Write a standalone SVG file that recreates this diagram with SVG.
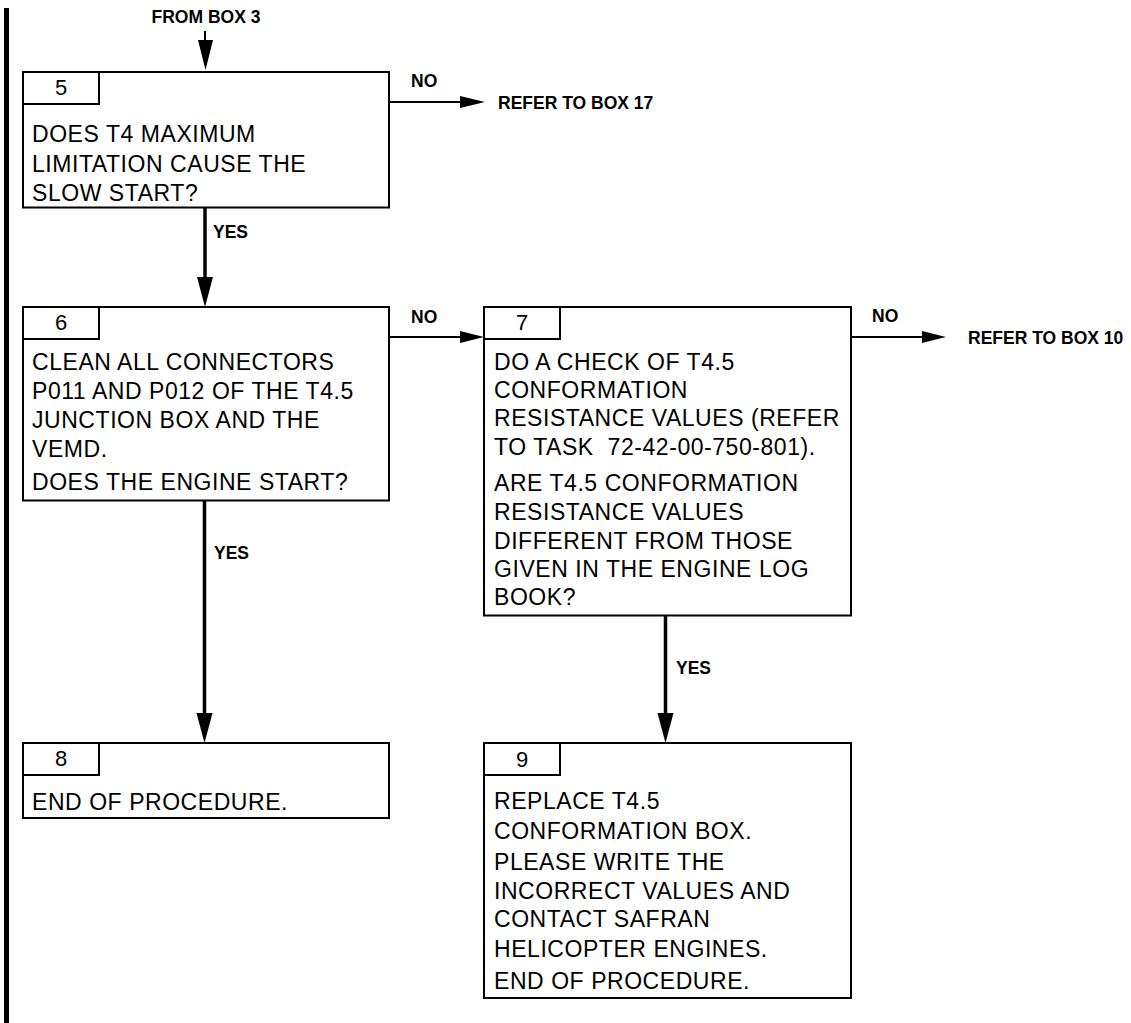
<svg xmlns="http://www.w3.org/2000/svg" width="1131" height="1023" viewBox="0 0 1131 1023">
<style>
.box{fill:#fff;stroke:#000;stroke-width:2}
.tab{fill:none;stroke:#000;stroke-width:2}
.t{font-family:"Liberation Sans",Arial,sans-serif;font-size:23px;letter-spacing:0.55px;fill:#000}
.n{font-family:"Liberation Sans",Arial,sans-serif;font-size:22px;fill:#000;text-anchor:middle}
.lb{font-family:"Liberation Sans",Arial,sans-serif;font-size:17.5px;font-weight:bold;fill:#000}
.v{stroke:#000;stroke-width:3.5;fill:none}
.h{stroke:#000;stroke-width:2;fill:none}
.ah{fill:#000}
</style>
<rect x="4" y="8" width="5" height="1015" fill="#000"/>
<g id="connectors">
  <text class="lb" x="206" y="23" text-anchor="middle">FROM BOX 3</text>
  <line class="h" x1="205" y1="31" x2="205" y2="45"/>
  <polygon class="ah" points="198,40 213,40 205.5,70"/>
  <line class="h" x1="389" y1="102" x2="465" y2="102"/>
  <polygon class="ah" points="460,96 485,102 460,108"/>
  <text class="lb" x="411" y="87">NO</text>
  <text class="lb" x="498" y="109">REFER TO BOX 17</text>
  <line class="v" x1="205" y1="208" x2="205" y2="282"/>
  <polygon class="ah" points="197,277 213,277 205,307"/>
  <text class="lb" x="213" y="238">YES</text>
  <line class="h" x1="389" y1="337" x2="465" y2="337"/>
  <polygon class="ah" points="460,331 484,337 460,343"/>
  <text class="lb" x="411" y="323">NO</text>
  <line class="h" x1="851" y1="337" x2="927" y2="337"/>
  <polygon class="ah" points="922,331 946,337 922,343"/>
  <text class="lb" x="872" y="322">NO</text>
  <text class="lb" x="968" y="344">REFER TO BOX 10</text>
  <line class="v" x1="204.5" y1="501" x2="204.5" y2="718"/>
  <polygon class="ah" points="196.5,713 212.5,713 204.5,743"/>
  <text class="lb" x="214" y="559">YES</text>
  <line class="v" x1="665.5" y1="616" x2="665.5" y2="718"/>
  <polygon class="ah" points="657.5,713 673.5,713 665.5,743"/>
  <text class="lb" x="676" y="674">YES</text>
</g>
<g id="box5">
  <rect class="box" x="23" y="72" width="366" height="135.5"/>
  <rect class="tab" x="23" y="72" width="76" height="32"/>
  <text class="n" x="61" y="95">5</text>
  <text class="t" x="32"><tspan x="32" y="141.5">DOES T4 MAXIMUM</tspan><tspan x="32" y="171.5">LIMITATION CAUSE THE</tspan><tspan x="32" y="201">SLOW START?</tspan></text>
</g>
<g id="box6">
  <rect class="box" x="23" y="307" width="366" height="193.5"/>
  <rect class="tab" x="23" y="307" width="76" height="32"/>
  <text class="n" x="61" y="329.5">6</text>
  <text class="t"><tspan x="32" y="369.5">CLEAN ALL CONNECTORS</tspan><tspan x="32" y="399">P011 AND P012 OF THE T4.5</tspan><tspan x="32" y="428">JUNCTION BOX AND THE</tspan><tspan x="32" y="457">VEMD.</tspan><tspan x="32" y="490">DOES THE ENGINE START?</tspan></text>
</g>
<g id="box7">
  <rect class="box" x="484" y="307" width="367" height="308.5"/>
  <rect class="tab" x="484" y="307" width="76" height="32"/>
  <text class="n" x="522" y="329.5">7</text>
  <text class="t" xml:space="preserve"><tspan x="494" y="369.5">DO A CHECK OF T4.5</tspan><tspan x="494" y="397.5">CONFORMATION</tspan><tspan x="494" y="426">RESISTANCE VALUES (REFER</tspan><tspan x="494" y="455">TO TASK  72-42-00-750-801).</tspan><tspan x="494" y="491">ARE T4.5 CONFORMATION</tspan><tspan x="494" y="520">RESISTANCE VALUES</tspan><tspan x="494" y="548.5">DIFFERENT FROM THOSE</tspan><tspan x="494" y="577">GIVEN IN THE ENGINE LOG</tspan><tspan x="494" y="605">BOOK?</tspan></text>
</g>
<g id="box8">
  <rect class="box" x="23" y="743" width="366" height="75"/>
  <rect class="tab" x="23" y="743" width="76" height="32"/>
  <text class="n" x="61" y="766">8</text>
  <text class="t" x="32" y="809.5">END OF PROCEDURE.</text>
</g>
<g id="box9">
  <rect class="box" x="484" y="743" width="367" height="255"/>
  <rect class="tab" x="484" y="743" width="76" height="32"/>
  <text class="n" x="522" y="766.5">9</text>
  <text class="t"><tspan x="494" y="809">REPLACE T4.5</tspan><tspan x="494" y="838.5">CONFORMATION BOX.</tspan><tspan x="494" y="870">PLEASE WRITE THE</tspan><tspan x="494" y="898.5">INCORRECT VALUES AND</tspan><tspan x="494" y="927">CONTACT SAFRAN</tspan><tspan x="494" y="957">HELICOPTER ENGINES.</tspan><tspan x="494" y="988.5">END OF PROCEDURE.</tspan></text>
</g>
</svg>
